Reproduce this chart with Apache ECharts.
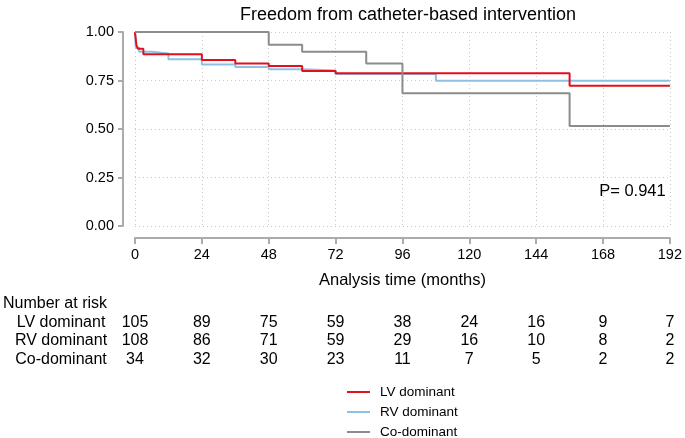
<!DOCTYPE html>
<html>
<head>
<meta charset="utf-8">
<script src="https://cdn.jsdelivr.net/npm/echarts@6/dist/echarts.min.js"></script>
<style>
html,body{margin:0;padding:0;background:#fff;}
#c{width:685px;height:438px;}
</style>
</head>
<body>
<div id="c"></div>
<script>
// ---- data ----
var seriesNames = ['LV dominant', 'RV dominant', 'Co-dominant'];
var lvCurve = [[0,1],[0.5,0.933],[1,0.914],[3,0.885],[24,0.856],[36,0.837],[48,0.825],[60,0.799],[72,0.788],[156,0.723],[192,0.723]];
var rvCurve = [[0,1],[0.3,0.919],[1.5,0.898],[6,0.889],[12,0.859],[24,0.833],[36,0.820],[48,0.808],[60,0.802],[72,0.783],[108,0.749],[192,0.749]];
var coCurve = [[0,1],[48,0.934],[60,0.898],[83,0.837],[96,0.684],[156,0.515],[192,0.515]];
var riskTimes = [0,24,48,72,96,120,144,168,192];
var lvRisk = [105,89,75,59,38,24,16,9,7];
var rvRisk = [108,86,71,59,29,16,10,8,2];
var coRisk = [34,32,30,23,11,7,5,2,2];
var pText = 'P= 0.941';

var colors = ['#e3101b', '#8cc1e4', '#8c8c8c'];
var FONT = '"Liberation Sans", Arial, Helvetica, sans-serif';
var axisGray = '#ababab';
var gridStyle = {show:true, lineStyle:{color:'#c8c8c8', type:[1,3], width:1}};

var chart = echarts.init(document.getElementById('c'), null, {renderer:'canvas'});
var option = {
  animation:false,
  backgroundColor:'#fff',
  textStyle:{fontFamily:FONT},
  title:{text:'Freedom from catheter-based intervention', left:403, top:1, textAlign:'center',
    textStyle:{fontFamily:FONT, fontSize:18, fontWeight:'normal', color:'#000'}},
  grid:{left:135, right:14, top:32, bottom:212},
  xAxis:{type:'value', min:0, max:192, interval:24, offset:12,
    axisLine:{show:true, onZero:false, lineStyle:{color:axisGray, width:2}},
    axisTick:{show:true, length:6, lineStyle:{color:axisGray, width:2}},
    axisLabel:{fontFamily:FONT, fontSize:14.5, color:'#000', margin:9},
    splitLine:gridStyle,
    name:'Analysis time (months)', nameLocation:'middle', nameGap:34,
    nameTextStyle:{fontFamily:FONT, fontSize:16.5, color:'#000'}},
  yAxis:{type:'value', min:0, max:1, interval:0.25, offset:12,
    axisLine:{show:true, onZero:false, lineStyle:{color:axisGray, width:2}},
    axisTick:{show:true, length:5, lineStyle:{color:axisGray, width:2}},
    axisLabel:{fontFamily:FONT, fontSize:14.5, color:'#000', margin:9,
      formatter:function(v){return v.toFixed(2);}},
    splitLine:gridStyle},
  series:[
    {name:seriesNames[1], type:'line', step:'end', data:rvCurve, showSymbol:false, symbol:'none', z:2,
      lineStyle:{color:colors[1], width:2}, itemStyle:{color:colors[1]}},
    {name:seriesNames[0], type:'line', step:'end', data:lvCurve, showSymbol:false, symbol:'none', z:3,
      lineStyle:{color:colors[0], width:2}, itemStyle:{color:colors[0]}},
    {name:seriesNames[2], type:'line', step:'end', data:coCurve, showSymbol:false, symbol:'none', z:4,
      lineStyle:{color:colors[2], width:2}, itemStyle:{color:colors[2]}}
  ]
};
chart.setOption(option);

var graphics = [];
var tFont = '16px ' + FONT;
// number-at-risk table positioned from the x axis scale
graphics.push({type:'text', left:3, top:296, style:{text:'Number at risk', font:tFont, fill:'#000'}});
var rows = [[seriesNames[0], lvRisk, 322.5],[seriesNames[1], rvRisk, 341],[seriesNames[2], coRisk, 359.5]];
rows.forEach(function(r){
  graphics.push({type:'text', x:61, y:r[2], style:{text:r[0], font:tFont, fill:'#000', align:'center', verticalAlign:'middle'}});
  riskTimes.forEach(function(t,i){
    var px = chart.convertToPixel({xAxisIndex:0}, t);
    graphics.push({type:'text', x:px, y:r[2], style:{text:String(r[1][i]), font:tFont, fill:'#000', align:'center', verticalAlign:'middle'}});
  });
});
// p value
var pp = chart.convertToPixel({gridIndex:0}, [190.5, 0.18]);
graphics.push({type:'text', x:pp[0], y:pp[1], style:{text:pText, font:'16.5px ' + FONT, fill:'#000', align:'right', verticalAlign:'middle'}});
// legend
var legY = [392, 412, 432];
seriesNames.forEach(function(n,i){
  graphics.push({type:'line', shape:{x1:347, y1:legY[i], x2:370, y2:legY[i]}, style:{stroke:colors[i], lineWidth:2}});
  graphics.push({type:'text', x:380, y:legY[i], style:{text:n, font:'13.5px ' + FONT, fill:'#000', verticalAlign:'middle'}});
});
chart.setOption({graphic:graphics});
</script>
</body>
</html>
